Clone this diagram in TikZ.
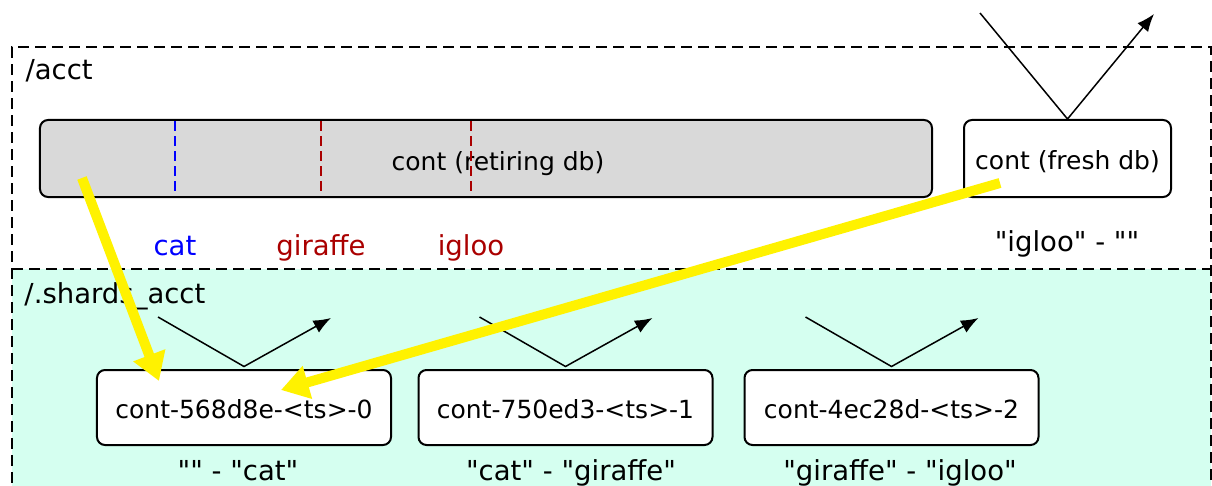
\documentclass[tikz,border=0pt]{standalone}
\usepackage{fontspec}
\setmainfont{DejaVu Sans}
\usepackage{tikz}
\usetikzlibrary{arrows.meta,calc}
\definecolor{shardfill}{RGB}{213,255,240}
\definecolor{oldfill}{RGB}{217,217,217}
\definecolor{keyred}{RGB}{170,0,0}
\newcommand{\keyq}[1]{\textquotedbl#1\textquotedbl}

\begin{document}
\begin{tikzpicture}[x=0.4pt,y=-0.4pt,
    dbbox/.style={draw,rounded corners=3.2pt,line width=0.8pt,fill=white,minimum height=30.8pt,inner sep=0pt,text height=8.8pt,text depth=0pt},
    shardbox/.style={dbbox,minimum width=117.6pt,minimum height=30pt},
    region/.style={dashed,dash pattern=on 4.4pt off 2.4pt,line width=0.7pt},
    split/.style={dash pattern=on 4pt off 2pt,line width=0.6pt},
    tag/.style={anchor=base,inner sep=0pt,font=\fontsize{11}{13}\selectfont},
    move/.style={-{Latex[length=7pt,width=5.5pt]},line width=0.6pt},
    migrate/.style={yellow,line width=4pt,-{Triangle[length=11pt,width=13pt]}}]

     \useasboundingbox (0,0) rectangle (1212,486);
     \clip (0,0) rectangle (1212,486);

      % draw the two directories
      \fill[shardfill] (12,269) rectangle (1211,500);
      \draw[region] (12,500) -- (12,47) -- (1211,47) -- (1211,500);
      \draw[region] (12,269) -- (1211,269);
      \node[tag,anchor=base west] (acct) at (25,80) {/acct};
      \node[tag,anchor=base west] (shards) at (24,303) {/.shards\_acct};

      % draw the retiring and the fresh db
      \node[dbbox,fill=oldfill,minimum width=356.8pt] (retiring) at (486,158.5) {};
      \node[anchor=base,inner sep=0pt] (retiringtext) at (498,170) {cont (retiring db)};
      \node[dbbox,minimum width=82.8pt] (fresh) at (1067.5,158.5) {cont (fresh db)};
      \node[tag] (freshrange) at (1067,251) {\keyq{igloo} - \keyq{}};

      % draw the split keys
       \foreach \x/\col/\key in {175/blue/cat,321/keyred/giraffe,471/keyred/igloo}
       {
       \draw[split,\col] (\x,121) -- (\x,196);
       \node[tag,\col] (\key) at (\x,255) {\key};
       }

      % draw the shards
       \foreach \i/\x/\lx/\name/\lo/\hi in {0/244/238/568d8e//cat,1/565.5/571/750ed3/cat/giraffe,2/891.5/900/4ec28d/giraffe/igloo}
       {
       \node[shardbox] (shard\i) at (\x,407.5) {cont-\name-<ts>-\i};
       \node[tag] (range\i) at (\lx,480) {\keyq{\lo} - \keyq{\hi}};
       \coordinate (in\i) at ($(shard\i.north)+(-86,-52)$);
       \coordinate (out\i) at ($(shard\i.north)+(87,-51)$);
       \draw[move] (in\i) -- ([yshift=1pt]shard\i.north) -- (out\i);
       }

      % draw the writes above the fresh db
      \coordinate (freshin) at (980,13);
      \coordinate (freshout) at (1154,14);
      \draw[move] (freshin) -- (fresh.north) -- (freshout);

      % draw the moves
      \draw[migrate] ($(retiring.south west)+(43,-20)$) -- ($(shard0.north west)+(63,12)$);
      \draw[migrate] ($(fresh.south west)+(37,-15)$) -- ($(shard0.north west)+(185,21)$);

\end{tikzpicture}
\end{document}
